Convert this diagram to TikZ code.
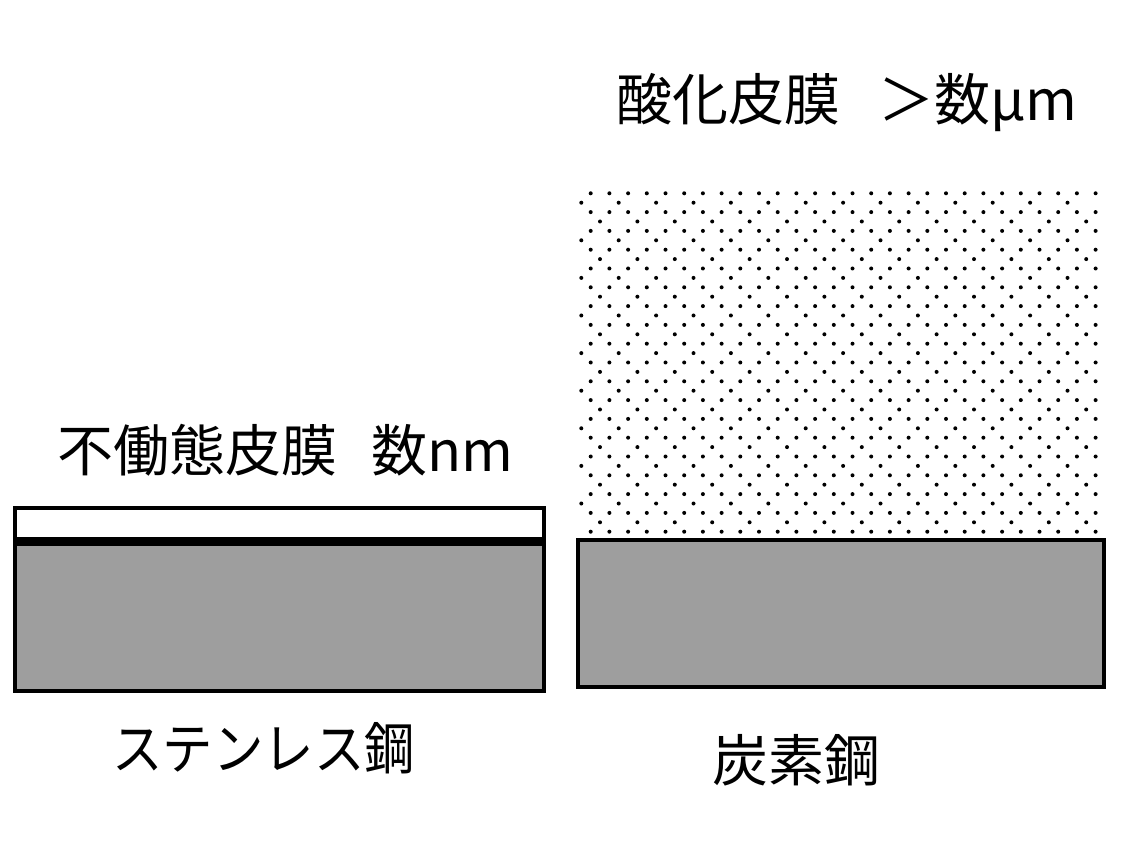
\documentclass[tikz,border=0pt]{standalone}
\usepackage{fontspec}
\newfontfamily\jpfont{Noto Sans CJK JP}
\usetikzlibrary{positioning}
\definecolor{steelgray}{HTML}{9E9E9E}

\begin{document}
\begin{tikzpicture}[x=0.5pt,y=-0.5pt,
steelbox/.style={draw=black, fill=steelgray, line width=2pt},
filmbox/.style={draw=black, fill=white, line width=2pt},
filmline/.style={draw=black, line width=4.5pt},
oxidedot/.style={fill=black},
jplabel/.style={font=\jpfont\fontsize{28}{32}\selectfont, inner sep=0pt, anchor=west},
]
\useasboundingbox (0,0) rectangle (1140,855);

%Oxide dots
\foreach \i in {0,...,18}
  \foreach \k in {0,...,27}
    \fill[oxidedot] (590.7+18.7*\k, 193.3+18.8*\i) circle[radius=1pt];
\foreach \i in {0,...,8}
  \foreach \k in {0,...,13}{
    \fill[oxidedot] (581.3+37.4*\k, 202.7+37.6*\i) circle[radius=1pt];
    \fill[oxidedot] (600.0+37.4*\k, 221.5+37.6*\i) circle[radius=1pt];
  }

%Boxes
\draw[filmbox]  (15,508) rectangle (544,541.5);
\draw[steelbox] (15,541.5) rectangle (544,691);
\draw[filmline] (15,541.5) -- (544,541.5);
\draw[steelbox] (578,540) rectangle (1104,687);

%Labels
\node[jplabel] (oxide)   at (616,103) {酸化皮膜\hspace{19pt}＞数μm};
\node[jplabel] (passive) at (57,450)  {不働態皮膜\hspace{17pt}数nm};
\node[jplabel] (sus)     at (112,748) {\scalebox{0.9}[1]{ステンレス鋼}};
\node[jplabel] (carbon)  at (712,760) {炭素鋼};
\end{tikzpicture}
\end{document}
